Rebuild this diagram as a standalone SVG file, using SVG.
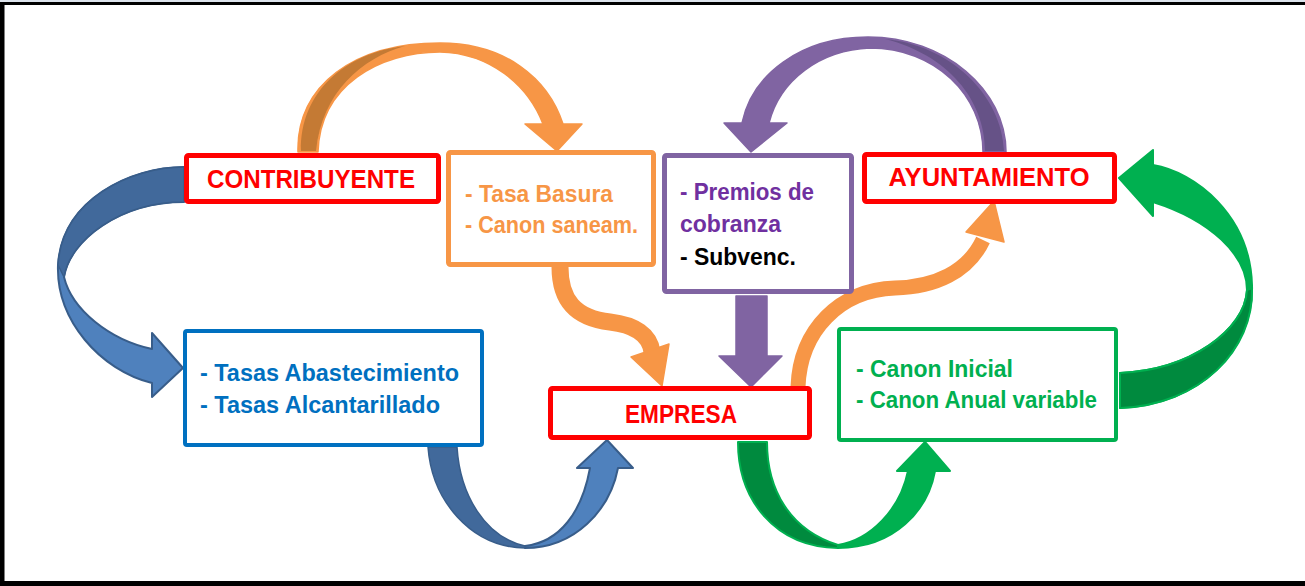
<svg xmlns="http://www.w3.org/2000/svg" width="1305" height="586" viewBox="0 0 1305 586">
<style>
text{font-family:"Liberation Sans",Arial,sans-serif;font-weight:bold}
.t{font-size:25px;fill:#FF0000;text-anchor:middle}
.l{font-size:23px}
.box{fill:#FFFFFF}
.red{stroke:#FF0000;stroke-width:5}
.blueA{fill:#4F81BD;stroke:#385D8A;stroke-width:2;stroke-linejoin:round}
.blueD{fill:#41699B;stroke:#385D8A;stroke-width:1.5;stroke-linejoin:round}
.orA{fill:#F79646;stroke:#F79646;stroke-width:1.5;stroke-linejoin:round}
.orD{fill:#C47A34;stroke:none}
.puA{fill:#8064A2;stroke:#8064A2;stroke-width:1.5;stroke-linejoin:round}
.puD{fill:#665287;stroke:none}
.grA{fill:#00B050;stroke:#00B050;stroke-width:2;stroke-linejoin:round}
.grD{fill:#008A3E;stroke:#00B050;stroke-width:2;stroke-linejoin:round}
</style>
<rect x="0" y="0" width="1305" height="586" fill="#FFFFFF"/>
<rect x="0" y="0" width="1305" height="2" fill="#DCE3EC"/>
<rect x="0" y="2" width="1305" height="3" fill="#000000"/>
<rect x="0" y="2" width="4.5" height="584" fill="#000000"/>
<rect x="0" y="581" width="1305" height="5" fill="#000000"/>

<g id="connectors">
  <!-- blue C arrow: CONTRIBUYENTE -> Tasas box -->
  <path class="blueA" d="M184,167 C130,167 62,200 58,265 C56,320 100,370 152,383 L152,397 L183,368 L152,333 L152,349 C110,340 72,310 64,277 C70,240 120,202 184,202 Z"/>
  <path class="blueD" d="M184,167 C130,167 62,200 58,265 L64,277 C70,240 120,202 184,202 Z"/>
  <!-- blue U arrow: Tasas box -> EMPRESA -->
  <path class="blueA" d="M525,548 C575,548 610,510 618,468 L633,468 L607,440 L577,468 L590,468 C582,512 560,542 525,546 Z"/>
  <path class="blueD" d="M428,447 C432,500 470,547 525,548 L525,546 C485,537 460,495 457,447 Z"/>
  <!-- orange arc: CONTRIBUYENTE -> Tasa Basura -->
  <path class="orA" d="M298,152 C296,85 355,43 440,43 C505,43 548,78 563,124 L582,124 L557,151 L525,124 L543,124 C528,85 490,53 440,52 C380,52 320,85 318,152 Z"/>
  <path class="orD" d="M301,151 C300,92 345,53 405,46 C362,58 322,92 316,151 Z"/>
  <!-- orange S: Tasa Basura -> EMPRESA -->
  <path d="M560,267 C560,300 575,318 610,322 C635,325 650,335 652,352" fill="none" stroke="#F79646" stroke-width="17"/>
  <polygon points="631,357 669,344 662,386" fill="#F79646" stroke="#F79646" stroke-width="1.5" stroke-linejoin="round"/>
  <!-- purple arc: AYUNTAMIENTO -> Premios box -->
  <path class="puA" d="M1006,152 C1006,90 945,37 868,37 C800,37 752,75 742,123 L724,123 L751,152 L787,123 L769,123 C780,80 820,50 870,48 C935,48 983,95 983,152 Z"/>
  <path class="puD" d="M885,39 C950,45 1002,95 1004,151 L985,151 C985,100 948,55 885,39 Z"/>
  <!-- purple straight arrow: Premios box -> EMPRESA -->
  <polygon class="puA" points="736,296 767,296 767,356 782,356 751,387 719,356 736,356"/>
  <!-- orange S: EMPRESA -> AYUNTAMIENTO -->
  <path d="M798,387 C800,330 840,290 895,288 C935,287 968,272 983,240" fill="none" stroke="#F79646" stroke-width="15"/>
  <polygon points="966,232 1004,242 994,201" fill="#F79646" stroke="#F79646" stroke-width="1.5" stroke-linejoin="round"/>
  <!-- green right arrow: Canon box -> AYUNTAMIENTO -->
  <path class="grA" d="M1119,178 L1153,150 L1153,165 C1195,172 1250,215 1252,285 C1254,350 1200,405 1120,408 L1120,373 C1190,370 1245,330 1247,290 C1247,255 1210,220 1153,202 L1153,216 Z"/>
  <path class="grD" d="M1252,288 C1254,350 1200,405 1120,408 L1120,373 C1190,370 1245,330 1247,290 Z"/>
  <!-- green U arrow: EMPRESA -> Canon box -->
  <path class="grD" d="M738,442 C738,500 775,547 838,548 L838,545 C790,530 767,490 767,442 Z"/>
  <path class="grA" d="M838,548 C895,548 928,510 935,471 L950,471 L925,442 L897,471 L908,471 C900,510 870,540 838,545 Z"/>
</g>

<g id="contribuyente">
  <rect class="box red" x="186.5" y="155.5" width="252" height="46" rx="2"/>
  <text class="t" x="311" y="188" textLength="208" lengthAdjust="spacingAndGlyphs">CONTRIBUYENTE</text>
</g>
<g id="tasa-basura">
  <rect class="box" x="448.5" y="152.5" width="205" height="112" rx="2" stroke="#F79646" stroke-width="5"/>
  <text class="l" x="465" y="202" fill="#F79646" textLength="148" lengthAdjust="spacingAndGlyphs">- Tasa Basura</text>
  <text class="l" x="465" y="233" fill="#F79646" textLength="173" lengthAdjust="spacingAndGlyphs">- Canon saneam.</text>
</g>
<g id="premios">
  <rect class="box" x="664.5" y="155.5" width="187" height="136" rx="2" stroke="#8064A2" stroke-width="5"/>
  <text class="l" x="680" y="200" fill="#7030A0" textLength="134" lengthAdjust="spacingAndGlyphs">- Premios de</text>
  <text class="l" x="680" y="232" fill="#7030A0" textLength="101" lengthAdjust="spacingAndGlyphs">cobranza</text>
  <text class="l" x="680" y="265" fill="#000000" textLength="116" lengthAdjust="spacingAndGlyphs">- Subvenc.</text>
</g>
<g id="ayuntamiento">
  <rect class="box red" x="864.5" y="154.5" width="250" height="47" rx="2"/>
  <text class="t" x="989" y="186" textLength="201" lengthAdjust="spacingAndGlyphs">AYUNTAMIENTO</text>
</g>
<g id="tasas">
  <rect class="box" x="185" y="331" width="297" height="114" rx="2" stroke="#0070C0" stroke-width="4"/>
  <text class="l" x="200" y="381" fill="#0070C0" textLength="259" lengthAdjust="spacingAndGlyphs">- Tasas Abastecimiento</text>
  <text class="l" x="200" y="413" fill="#0070C0" textLength="240" lengthAdjust="spacingAndGlyphs">- Tasas Alcantarillado</text>
</g>
<g id="empresa">
  <rect class="box red" x="550.5" y="388.5" width="259" height="49" rx="2"/>
  <text class="t" x="681" y="423" textLength="112" lengthAdjust="spacingAndGlyphs">EMPRESA</text>
</g>
<g id="canon">
  <rect class="box" x="839" y="329" width="277" height="111" rx="2" stroke="#00B050" stroke-width="4"/>
  <text class="l" x="856" y="377" fill="#00B050" textLength="157" lengthAdjust="spacingAndGlyphs">- Canon Inicial</text>
  <text class="l" x="856" y="408" fill="#00B050" textLength="241" lengthAdjust="spacingAndGlyphs">- Canon Anual variable</text>
</g>
</svg>
